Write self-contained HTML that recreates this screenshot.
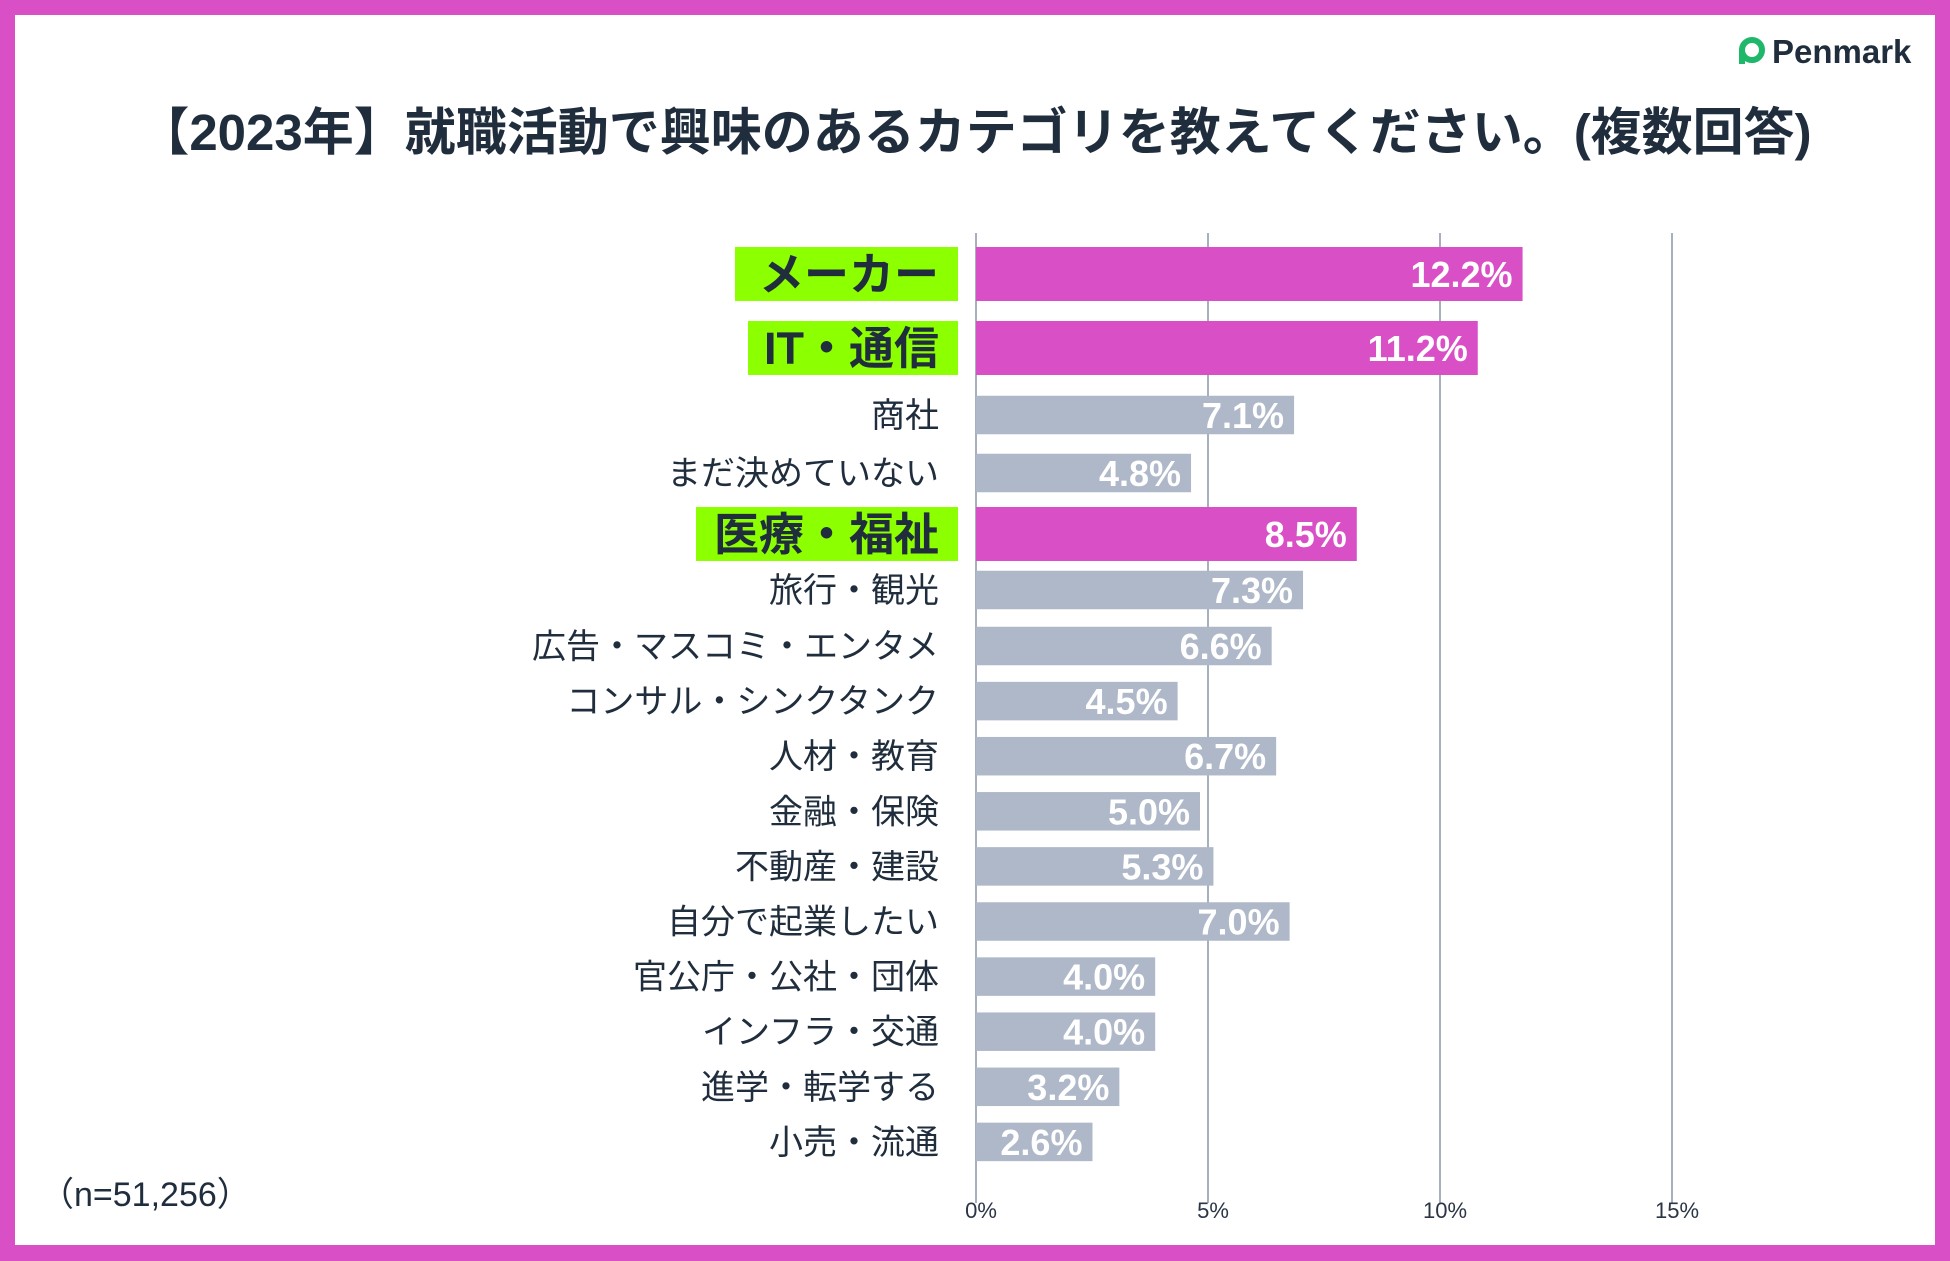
<!DOCTYPE html>
<html><head><meta charset="utf-8"><style>
body{margin:0;width:1950px;height:1261px;overflow:hidden;background:#d94fc6;font-family:"Liberation Sans","Noto Sans CJK JP",sans-serif;}
#card{position:absolute;left:15px;top:15px;width:1920px;height:1230px;background:#fff;}
svg{position:absolute;left:0;top:0;}
</style></head><body>
<div id="card"></div>
<svg id="chart" width="1950" height="1261">
<text x="975" y="150" text-anchor="middle" font-size="51" font-weight="bold" fill="#1f2d3d">【2023年】就職活動で興味のあるカテゴリを教えてください。(複数回答)</text>
<g>
<circle cx="1752" cy="50" r="10" fill="none" stroke="#1fb86a" stroke-width="6"/>
<rect x="1739" y="50" width="6" height="14" fill="#1fb86a"/>
<text x="1772" y="63" font-size="33" font-weight="bold" fill="#1f2d3d">Penmark</text>
</g>
<text x="40" y="1206" font-size="34" fill="#1f2d3d">（n=51,256）</text>
<g id="grid"></g><g id="bars"></g>
</svg>
<script>
const categories=["メーカー","IT・通信","商社","まだ決めていない","医療・福祉","旅行・観光","広告・マスコミ・エンタメ","コンサル・シンクタンク","人材・教育","金融・保険","不動産・建設","自分で起業したい","官公庁・公社・団体","インフラ・交通","進学・転学する","小売・流通"];
const values=[12.2,11.2,7.1,4.8,8.5,7.3,6.6,4.5,6.7,5.0,5.3,7.0,4.0,4.0,3.2,2.6];
const highlighted=[true,true,false,false,true,false,false,false,false,false,false,false,false,false,false,false];
const ticks=[0,5,10,15];
const NS="http://www.w3.org/2000/svg";
const x0=976,gp=46.4,bp=44.8;
function gx(v){return x0+v*gp;}
function bx(v){return x0+v*bp;}
const centers=[274,348,415,473,534,590];
for(let i=6;i<categories.length;i++)centers.push(646+(i-6)*55.1);
const boxW={0:223,1:210,4:262};
const grid=document.getElementById('grid'),bars=document.getElementById('bars');
function mk(tag,a,p){const e=document.createElementNS(NS,tag);for(const k in a)e.setAttribute(k,a[k]);p.appendChild(e);return e;}
ticks.forEach(t=>{
 const l=mk('line',{x1:gx(t),x2:gx(t),y1:233,y2:1203,stroke:'#8a96a8','stroke-width':1.5},grid);
 
 
 const tx=mk('text',{x:gx(t)+5,y:1218,'text-anchor':'middle','font-size':22,fill:'#2a3545'},grid);
 tx.textContent=t+'%';
 
 
});
categories.forEach((c,i)=>{
 const hl=highlighted[i],h=hl?54:38.5,cy=centers[i];
 if(hl){
  const w=boxW[i]||220;
  const bg=mk('rect',{x:958-w,y:cy-27,width:w,height:54,fill:'#8cff00'},bars);
  
  
 }
 const lb=mk('text',{x:939,y:cy+(hl?16:12),'text-anchor':'end','font-size':hl?45:34,'font-weight':hl?'bold':'normal',fill:'#1f2d3d'},bars);
 lb.textContent=c;
 
 
 const r=mk('rect',{x:x0,y:cy-h/2,width:bx(values[i])-x0,height:h,fill:hl?'#d94fc6':'#aeb8c8'},bars);
 
 
 const v=mk('text',{x:bx(values[i])-10,y:cy+13,'text-anchor':'end','font-size':36,'font-weight':'bold',fill:'#fff'},bars);
 v.textContent=values[i].toFixed(1)+'%';
 
 
});
</script>
</body></html>
